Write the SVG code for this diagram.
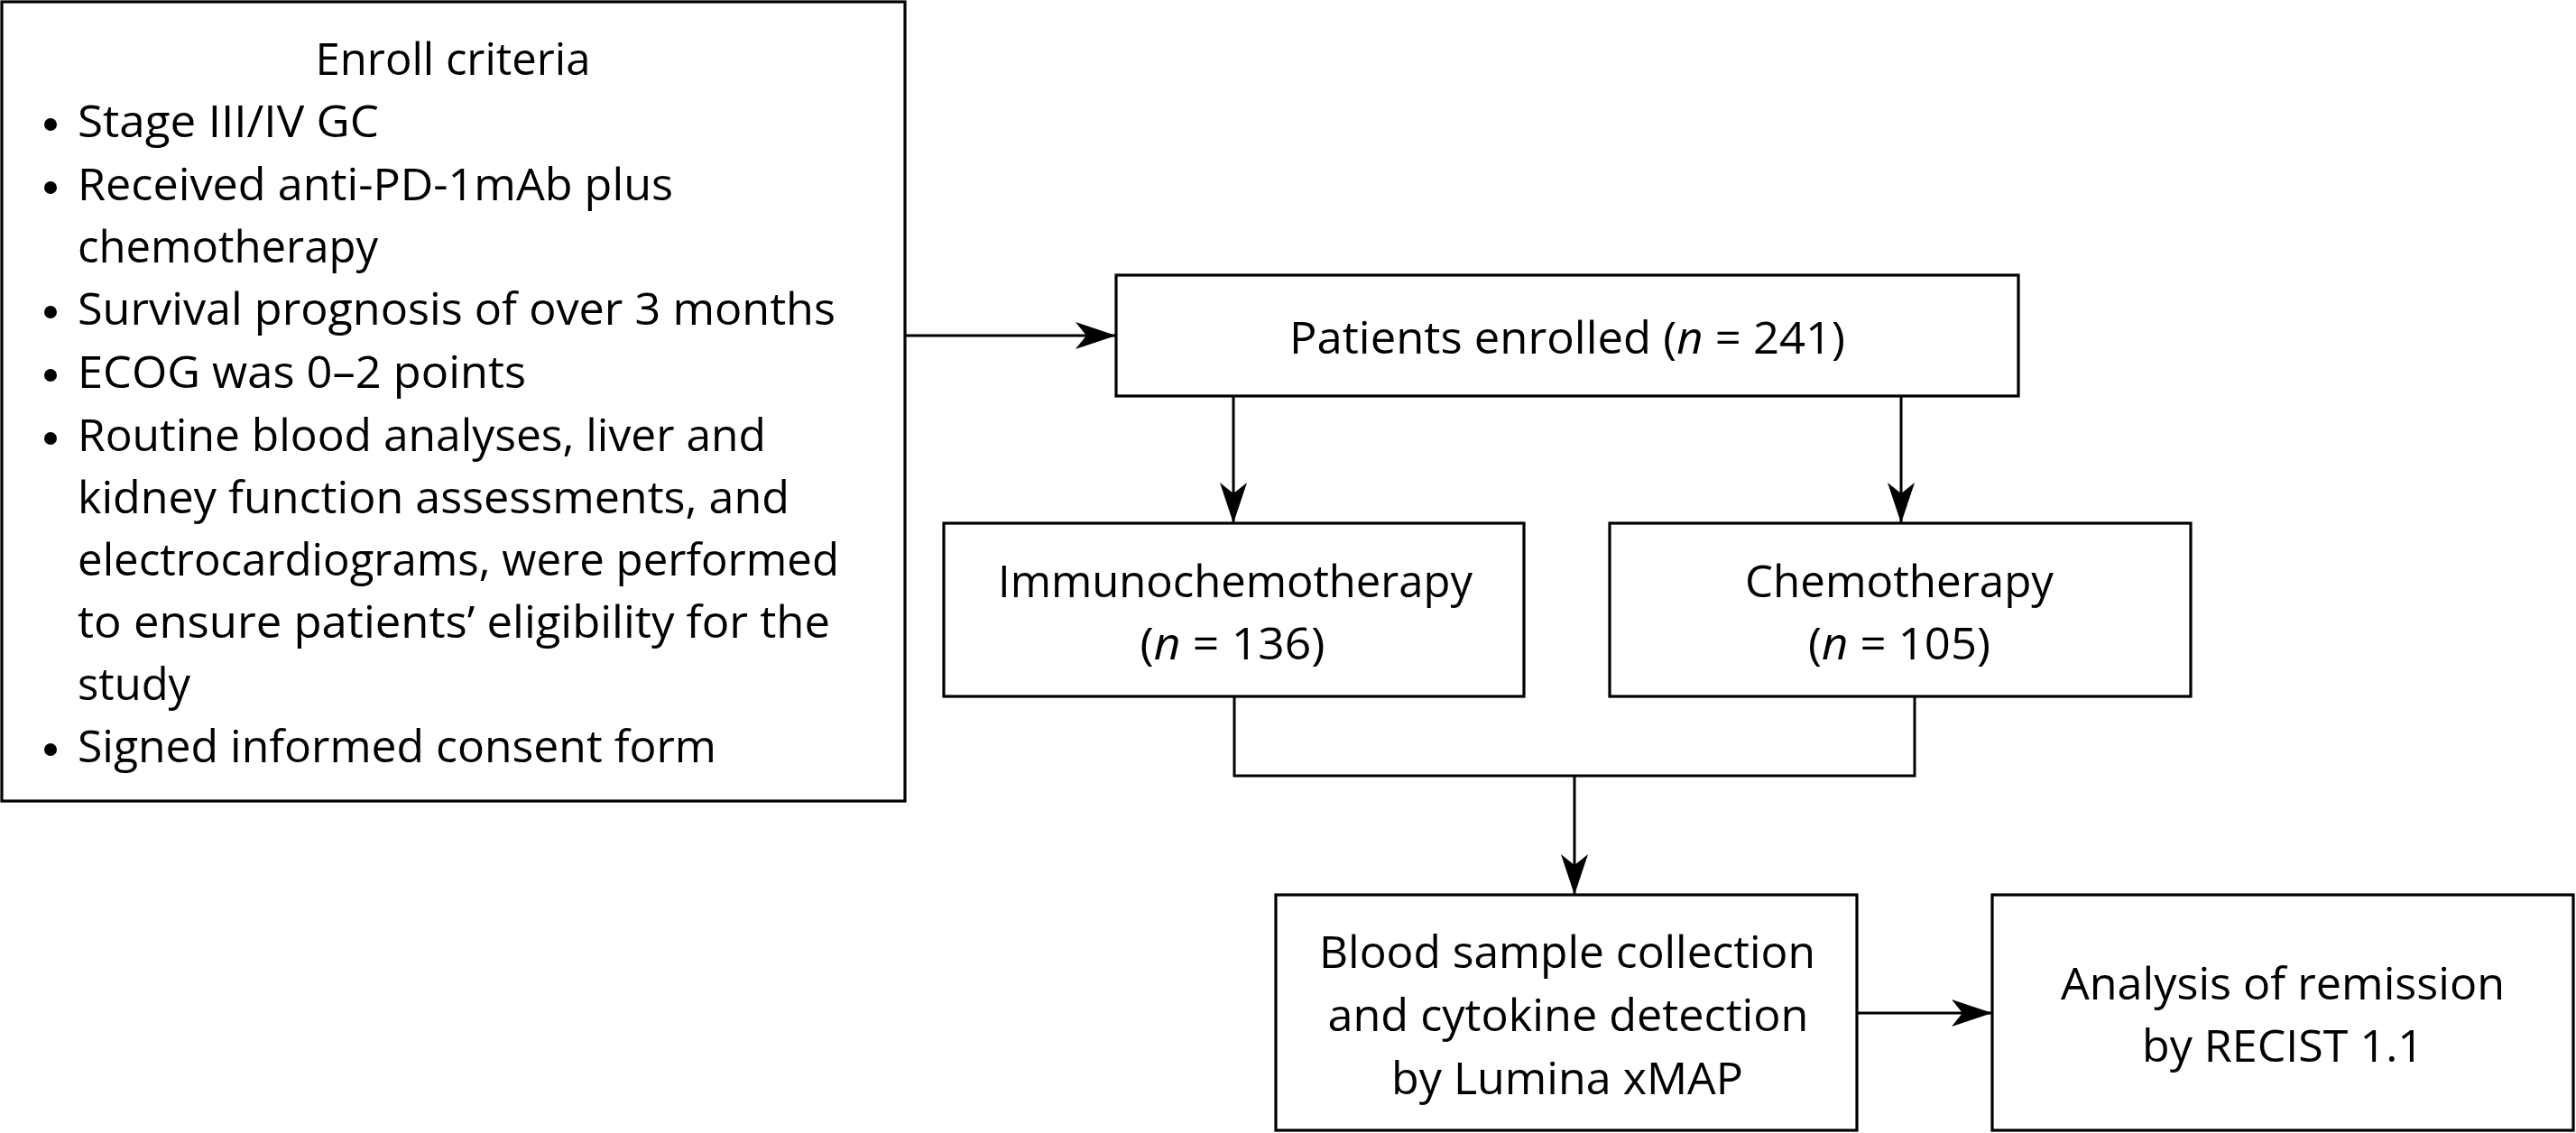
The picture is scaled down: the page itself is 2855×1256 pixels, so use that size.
<svg xmlns="http://www.w3.org/2000/svg" width="2855" height="1256" viewBox="0 0 2855 1256">
<style>
.box{fill:#fff;stroke:#000;stroke-width:3.2}
.t{font-family:"Open Sans","Liberation Sans",sans-serif;font-size:49px;fill:#000}
.c{text-anchor:middle}
.ln{fill:none;stroke:#000;stroke-width:3}
.bul{fill:#000}
</style>
<defs>
<marker id="ah" markerUnits="userSpaceOnUse" viewBox="0 0 45 30" markerWidth="45" markerHeight="30" refX="45" refY="15" orient="auto">
<path d="M0,0 L45,15 L0,30 L12,15 Z" fill="#000"/>
</marker>
</defs>
<rect width="2855" height="1256" fill="#fff"/>
<g id="connectors">
<line class="ln" x1="1003" y1="372" x2="1237" y2="372" marker-end="url(#ah)"/>
<line class="ln" x1="1367" y1="439" x2="1367" y2="580" marker-end="url(#ah)"/>
<line class="ln" x1="2107" y1="439" x2="2107" y2="580" marker-end="url(#ah)"/>
<polyline class="ln" points="1368,772 1368,860 2122,860 2122,772"/>
<line class="ln" x1="1745" y1="860" x2="1745" y2="992" marker-end="url(#ah)"/>
<line class="ln" x1="2058" y1="1123" x2="2208" y2="1123" marker-end="url(#ah)"/>
</g>
<g id="criteria">
<rect class="box" x="2" y="2" width="1001" height="886"/>
<text class="t c" x="502" y="83" textLength="305" lengthAdjust="spacingAndGlyphs">Enroll criteria</text>
<circle class="bul" cx="56" cy="138" r="7"/>
<text class="t" x="86" y="152" textLength="334" lengthAdjust="spacingAndGlyphs">Stage III/IV GC</text>
<circle class="bul" cx="56" cy="208" r="7"/>
<text class="t" x="86" y="222" textLength="660" lengthAdjust="spacingAndGlyphs">Received anti-PD-1mAb plus</text>
<text class="t" x="86" y="291" textLength="333" lengthAdjust="spacingAndGlyphs">chemotherapy</text>
<circle class="bul" cx="56" cy="346" r="7"/>
<text class="t" x="86" y="360" textLength="840" lengthAdjust="spacingAndGlyphs">Survival prognosis of over 3 months</text>
<circle class="bul" cx="56" cy="416" r="7"/>
<text class="t" x="86" y="430" textLength="497" lengthAdjust="spacingAndGlyphs">ECOG was 0–2 points</text>
<circle class="bul" cx="56" cy="486" r="7"/>
<text class="t" x="86" y="500" textLength="763" lengthAdjust="spacingAndGlyphs">Routine blood analyses, liver and</text>
<text class="t" x="86" y="569" textLength="789" lengthAdjust="spacingAndGlyphs">kidney function assessments, and</text>
<text class="t" x="86" y="638" textLength="844" lengthAdjust="spacingAndGlyphs">electrocardiograms, were performed</text>
<text class="t" x="86" y="707" textLength="834" lengthAdjust="spacingAndGlyphs">to ensure patients’ eligibility for the</text>
<text class="t" x="86" y="776" textLength="125" lengthAdjust="spacingAndGlyphs">study</text>
<circle class="bul" cx="56" cy="831" r="7"/>
<text class="t" x="86" y="845" textLength="708" lengthAdjust="spacingAndGlyphs">Signed informed consent form</text>
</g>
<g id="enrolled">
<rect class="box" x="1237" y="305" width="1000" height="134"/>
<text class="t c" x="1737" y="392" textLength="616" lengthAdjust="spacingAndGlyphs">Patients enrolled (<tspan font-style="italic">n</tspan> = 241)</text>
</g>
<g id="immuno">
<rect class="box" x="1046" y="580" width="643" height="192"/>
<text class="t c" x="1369" y="662" textLength="526" lengthAdjust="spacingAndGlyphs">Immunochemotherapy</text>
<text class="t c" x="1366" y="731" textLength="205" lengthAdjust="spacingAndGlyphs">(<tspan font-style="italic">n</tspan> = 136)</text>
</g>
<g id="chemo">
<rect class="box" x="1784" y="580" width="644" height="192"/>
<text class="t c" x="2105" y="662" textLength="342" lengthAdjust="spacingAndGlyphs">Chemotherapy</text>
<text class="t c" x="2105" y="731" textLength="202" lengthAdjust="spacingAndGlyphs">(<tspan font-style="italic">n</tspan> = 105)</text>
</g>
<g id="blood">
<rect class="box" x="1414" y="992" width="644" height="261"/>
<text class="t c" x="1737" y="1073" textLength="550" lengthAdjust="spacingAndGlyphs">Blood sample collection</text>
<text class="t c" x="1738" y="1143" textLength="533" lengthAdjust="spacingAndGlyphs">and cytokine detection</text>
<text class="t c" x="1737" y="1213" textLength="390" lengthAdjust="spacingAndGlyphs">by Lumina xMAP</text>
</g>
<g id="analysis">
<rect class="box" x="2208" y="992" width="644" height="261"/>
<text class="t c" x="2530" y="1108" textLength="492" lengthAdjust="spacingAndGlyphs">Analysis of remission</text>
<text class="t c" x="2530" y="1177" textLength="312" lengthAdjust="spacingAndGlyphs">by RECIST 1.1</text>
</g>
</svg>
